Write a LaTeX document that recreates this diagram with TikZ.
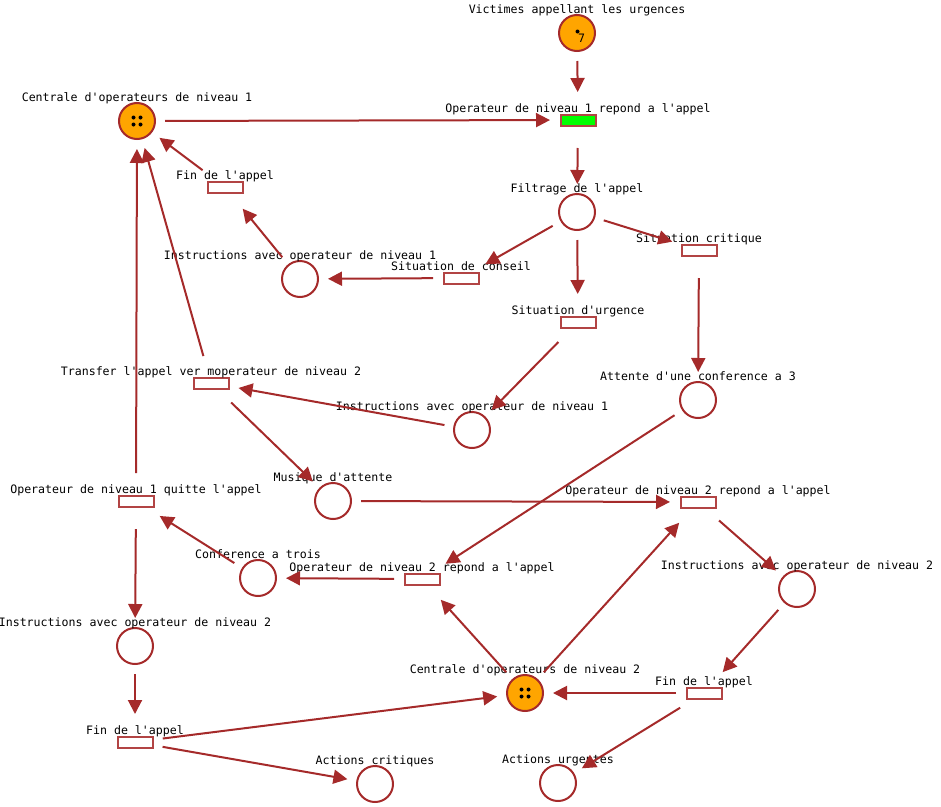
\documentclass[tikz,border=0pt]{standalone}
\usepackage{fontspec}
\setmonofont{DejaVu Sans Mono}
\usetikzlibrary{arrows.meta}

\definecolor{netred}{RGB}{165,42,42}
\definecolor{barred}{RGB}{178,68,68}
\definecolor{tokenorange}{RGB}{255,165,0}

\begin{document}
\begin{tikzpicture}[
    x=1pt, y=-1pt,
    font=\ttfamily\fontsize{11.6}{12}\selectfont,
    lbl/.style={inner sep=0pt, anchor=base},
    plbl/.style={lbl, yshift=0.5pt},
    tlbl/.style={lbl, yshift=-11.5pt},
    place/.style={circle, draw=netred, line width=2pt, fill=white,
      minimum size=36pt, inner sep=0pt, label distance=0pt,
      label={[plbl]above:{#1}}},
    marked/.style={place=#1, fill=tokenorange},
    bar/.style={rectangle, draw=barred, line width=2pt, inner sep=0pt,
      minimum width=35pt, minimum height=11pt},
    trans/.style={circle, minimum size=38pt, inner sep=0pt, outer sep=0pt,
      label distance=0pt, label={[bar, fill=white]center:{}},
      label={[tlbl]above:{#1}}},
    fired/.style={circle, minimum size=38pt, inner sep=0pt, outer sep=0pt,
      label distance=0pt, label={[bar, fill=green]center:{}},
      label={[tlbl]above:{#1}}},
    arc/.style={netred, line width=2pt, shorten <=9pt, shorten >=9pt,
      -{Triangle[length=14pt,width=14pt]}},
    token/.style={circle, fill=black, inner sep=0pt, minimum size=4pt}
  ]

  \path[use as bounding box] (0,0) rectangle (941,806);

  % =====================================================
  % PLACES
  % =====================================================
  \node[marked={Victimes appellant les urgences}] (victimes) at (577,33) {};
  \node[marked={Centrale d'operateurs de niveau 1}] (centrale1) at (137,121) {};
  \node[place={Filtrage de l'appel}] (filtrage) at (577,212) {};
  \node[place={Instructions avec operateur de niveau 1}] (instrA) at (300,279) {};
  \node[place={Instructions avec operateur de niveau 1}] (instrB) at (472,430) {};
  \node[place={Attente d'une conference a 3}] (attente) at (698,400) {};
  \node[place={Musique d'attente}] (musique) at (333,501) {};
  \node[place={Conference a trois}] (conf) at (258,578) {};
  \node[place={Instructions avec operateur de niveau 2}] (instrC) at (135,646) {};
  \node[place={Instructions avec operateur de niveau 2}] (instrD) at (797,589) {};
  \node[marked={Centrale d'operateurs de niveau 2}] (centrale2) at (525,693) {};
  \node[place={Actions critiques}] (critiques) at (375,784) {};
  \node[place={Actions urgentes}] (urgentes) at (558,783) {};

  % tokens
  \node[token] (tok) at (577.5,31.5) {};
  \node[inner sep=0pt] (count) at (581.5,38.5) {7};
  \foreach \dx/\dy in {-3.5/-3.5,3.5/-3.5,-3.5/3.5,3.5/3.5}{
    \fill (137+\dx,121+\dy) circle (2);
    \fill (525+\dx,693+\dy) circle (2);
  }

  % =====================================================
  % TRANSITIONS
  % =====================================================
  \node[fired={Operateur de niveau 1 repond a l'appel}] (repond1) at (578,120) {};
  \node[trans={Fin de l'appel}] (finA) at (225,187) {};
  \node[trans={Situation critique}] (critique) at (699,250) {};
  \node[trans={Situation de conseil}] (conseil) at (461,278) {};
  \node[trans={Situation d'urgence}] (urgence) at (578,322) {};
  \node[trans={Transfer l'appel ver moperateur de niveau 2}] (transfer) at (211,383) {};
  \node[trans={Operateur de niveau 1 quitte l'appel}] (quitte) at (136,501) {};
  \node[trans={Operateur de niveau 2 repond a l'appel}] (repondA) at (698,502) {};
  \node[trans={Operateur de niveau 2 repond a l'appel}] (repondB) at (422,579) {};
  \node[trans={Fin de l'appel}] (finB) at (704,693) {};
  \node[trans={Fin de l'appel}] (finC) at (135,742) {};

  % =====================================================
  % ARCS
  % =====================================================
  \draw[arc] (victimes) -- (repond1);
  \draw[arc] (centrale1) -- (repond1);
  \draw[arc] (repond1) -- (filtrage);
  \draw[arc] (filtrage) -- (critique);
  \draw[arc] (filtrage) -- (conseil);
  \draw[arc] (filtrage) -- (urgence);
  \draw[arc] (conseil) -- (instrA);
  \draw[arc] (critique) -- (attente);
  \draw[arc] (instrA) -- (finA);
  \draw[arc] (finA) -- (centrale1);
  \draw[arc] (urgence) -- (instrB);
  \draw[arc] (instrB) -- (transfer);
  \draw[arc] (transfer) -- (centrale1);
  \draw[arc] (transfer) -- (musique);
  \draw[arc] (musique) -- (repondA);
  \draw[arc] (attente) -- (repondB);
  \draw[arc] (repondB) -- (conf);
  \draw[arc] (conf) -- (quitte);
  \draw[arc] (quitte) -- (centrale1);
  \draw[arc] (quitte) -- (instrC);
  \draw[arc] (instrC) -- (finC);
  \draw[arc] (finC) -- (centrale2);
  \draw[arc] (finC) -- (critiques);
  \draw[arc] (centrale2) -- (repondB);
  \draw[arc] (centrale2) -- (repondA);
  \draw[arc] (repondA) -- (instrD);
  \draw[arc] (instrD) -- (finB);
  \draw[arc] (finB) -- (centrale2);
  \draw[arc] (finB) -- (urgentes);

\end{tikzpicture}
\end{document}
